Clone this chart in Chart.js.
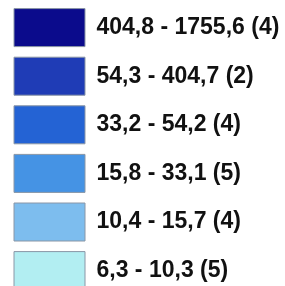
<!DOCTYPE html>
<html>
<head>
<meta charset="utf-8">
<script src="https://cdn.jsdelivr.net/npm/chart.js@4"></script>
<style>
  html, body { margin: 0; padding: 0; background: #fff; overflow: hidden; }
  #wrap { position: absolute; left: 0; top: -2px; width: 285px; height: 330px; }
</style>
</head>
<body>
<div id="wrap"><canvas id="chart"></canvas></div>
<script>
// class breaks of the map legend
const lowBounds  = [404.8, 54.3, 33.2, 15.8, 10.4, 6.3];
const highBounds = [1755.6, 404.7, 54.2, 33.1, 15.7, 10.3];
const counts     = [4, 2, 4, 5, 4, 5];
const colors = ['#0b0b8c', '#1f3cb6', '#2463d4', '#4593e4', '#7dbdee', '#b2eef2'];

const fmt = v => v.toFixed(1).replace('.', ',');

const datasets = lowBounds.map((lo, i) => ({
  label: fmt(lo) + ' - ' + fmt(highBounds[i]) + ' (' + counts[i] + ')',
  data: [],
  backgroundColor: colors[i],
  borderColor: '#8a96a6',
  borderWidth: 1
}));

new Chart(document.getElementById('chart'), {
  type: 'bar',
  data: { labels: [], datasets: datasets },
  options: {
    responsive: true,
    maintainAspectRatio: false,
    animation: false,
    layout: { padding: { left: 3.4, top: 0, right: 0, bottom: 0 } },
    scales: { x: { display: false }, y: { display: false } },
    plugins: {
      tooltip: { enabled: false },
      legend: {
        position: 'chartArea',
        align: 'start',
        labels: {
          boxWidth: 71,
          boxHeight: 38,
          padding: 10.6,
          color: '#111',
          font: { family: '"Liberation Sans", Arial, sans-serif', size: 23, weight: 'bold' }
        }
      }
    }
  }
});
</script>
</body>
</html>
